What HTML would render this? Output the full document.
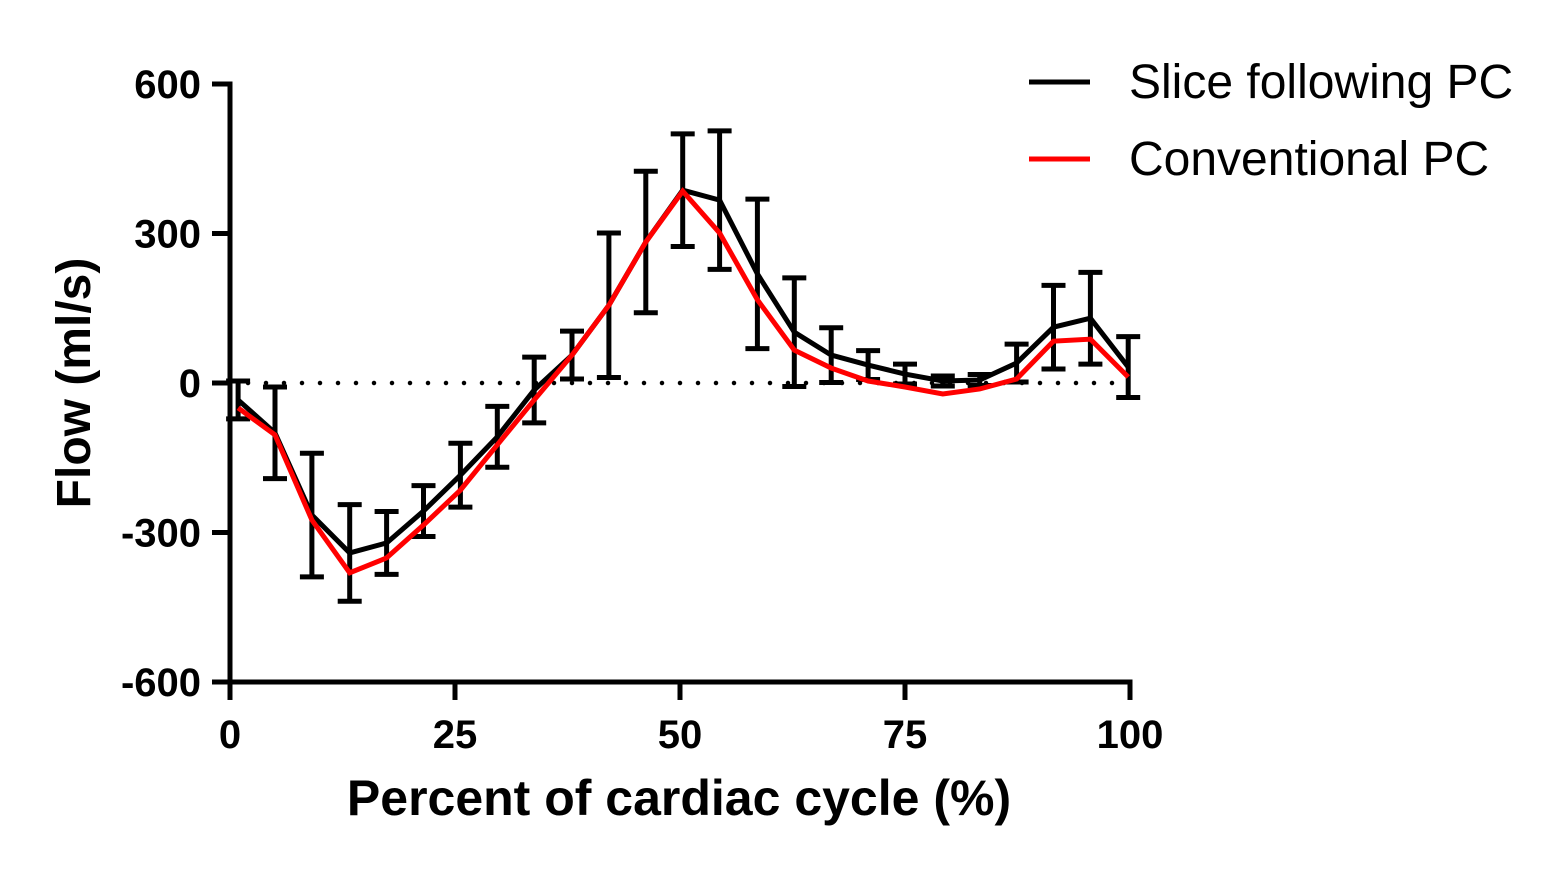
<!DOCTYPE html>
<html><head><meta charset="utf-8"><style>
html,body{margin:0;padding:0;background:#fff;}
svg{display:block;font-family:"Liberation Sans",Arial,sans-serif;}
</style></head><body>
<svg id="chart" width="1562" height="871" viewBox="0 0 1562 871"></svg>
<script>
const xVals=[0.9,5.0,9.1,13.3,17.4,21.5,25.6,29.7,33.8,38.0,42.1,46.2,50.3,54.4,58.6,62.7,66.8,70.9,75.0,79.2,83.3,87.4,91.5,95.6,99.8];
const slice=[-34,-100,-265,-341,-321,-257,-185,-108,-14,56,156,283,387,367,219,102,56,36,18,4,6,40,112,130,32];
const sliceErr=[38,92,124,97,63,51,64,61,66,48,145,142,113,139,150,109,55,29,20,10,11,38,84,92,61];
const conv=[-50,-104,-275,-381,-351,-285,-215,-124,-34,56,156,283,385,301,167,66,30,4,-8,-22,-12,8,84,88,12];
const xTicks=[0,25,50,75,100];
const yTicks=[600,300,0,-300,-600];
const NS='http://www.w3.org/2000/svg';
const svg=document.getElementById('chart');
const X=v=>230+v*9;
const Y=v=>383-v*0.4983;
function mk(tag,attrs,parent){const e=document.createElementNS(NS,tag);for(const k in attrs)e.setAttribute(k,attrs[k]);(parent||svg).appendChild(e);return e;}
const z=mk('line',{x1:X(0),x2:X(100),y1:Y(0),y2:Y(0),stroke:'#000','stroke-width':4.5,'stroke-dasharray':'0 18','stroke-linecap':'round'});


const ya=mk('line',{x1:230,x2:230,y1:Y(600)-2.5,y2:Y(-600)+2.5,stroke:'#000','stroke-width':5});


const xa=mk('line',{x1:227.5,x2:X(100)+2.5,y1:Y(-600),y2:Y(-600),stroke:'#000','stroke-width':5});


yTicks.forEach(t=>{
  const l=mk('line',{x1:212,x2:230,y1:Y(t),y2:Y(t),stroke:'#000','stroke-width':5});
  
  
  const tx=mk('text',{x:201,y:Y(t)+14,'text-anchor':'end','font-size':40,'font-weight':'bold'});
  tx.textContent=t;
  
  
});
xTicks.forEach(t=>{
  const l=mk('line',{x1:X(t),x2:X(t),y1:Y(-600),y2:Y(-600)+18,stroke:'#000','stroke-width':5});
  
  
  const tx=mk('text',{x:X(t),y:748,'text-anchor':'middle','font-size':40,'font-weight':'bold'});
  tx.textContent=t;
  
  
});
const xt=mk('text',{x:679,y:815,'text-anchor':'middle','font-size':50,'font-weight':'bold'});
xt.textContent='Percent of cardiac cycle (%)';


const yt=mk('text',{x:0,y:0,'text-anchor':'middle','font-size':48,'font-weight':'bold',transform:'translate(90,383) rotate(-90)'});
yt.textContent='Flow (ml/s)';


xVals.forEach((x,i)=>{
  const g=mk('g',{stroke:'#000','stroke-width':5});
  
  
  const top=Y(slice[i]+sliceErr[i]),bot=Y(slice[i]-sliceErr[i]);
  mk('line',{x1:X(x),x2:X(x),y1:top,y2:bot},g);
  mk('line',{x1:X(x)-12,x2:X(x)+12,y1:top,y2:top},g);
  mk('line',{x1:X(x)-12,x2:X(x)+12,y1:bot,y2:bot},g);
});
const pb=mk('polyline',{points:xVals.map((x,i)=>X(x)+','+Y(slice[i])).join(' '),fill:'none',stroke:'#000','stroke-width':5,'stroke-linejoin':'miter'});


const pr=mk('polyline',{points:xVals.map((x,i)=>X(x)+','+Y(conv[i])).join(' '),fill:'none',stroke:'#ff0000','stroke-width':5,'stroke-linejoin':'miter'});


const lg1=mk('line',{x1:1029,x2:1090,y1:82,y2:82,stroke:'#000','stroke-width':5});


const lt1=mk('text',{x:1129,y:98,'font-size':48});
lt1.textContent='Slice following PC';


const lg2=mk('line',{x1:1029,x2:1090,y1:159,y2:159,stroke:'#ff0000','stroke-width':5});


const lt2=mk('text',{x:1129,y:175,'font-size':48});
lt2.textContent='Conventional PC';


</script>
</body></html>
